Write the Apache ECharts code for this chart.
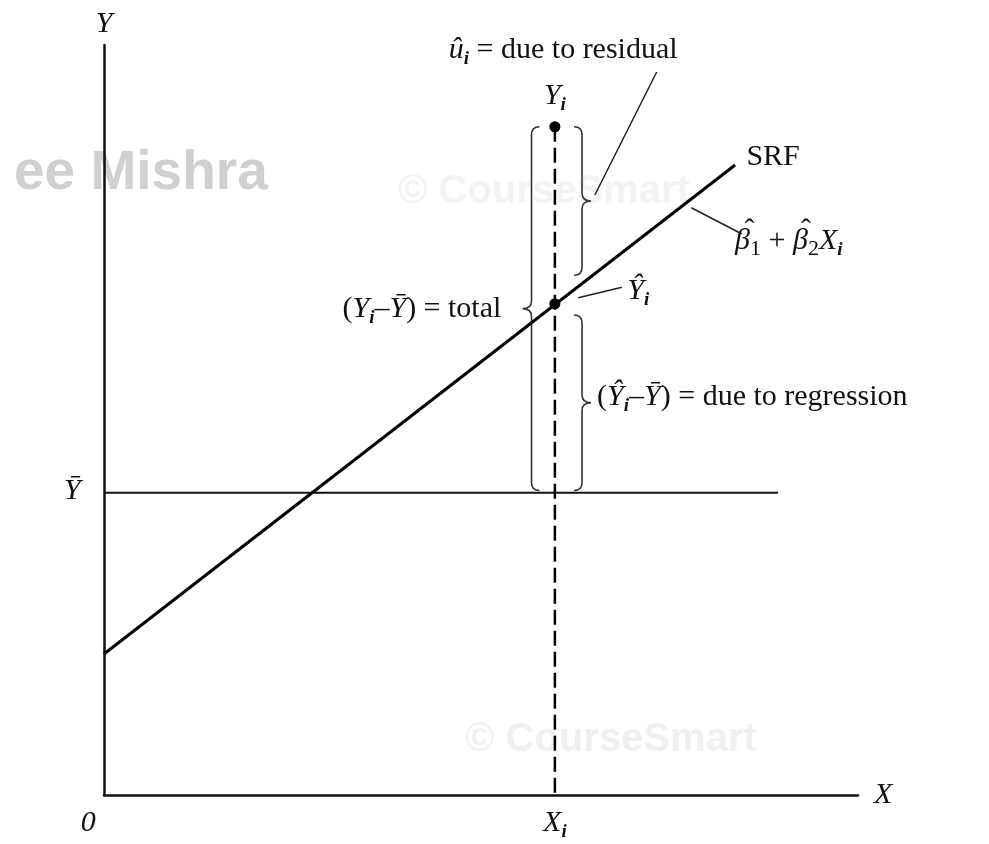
<!DOCTYPE html>
<html lang="en">
<head>
    <meta charset="UTF-8">
    <title>Regression decomposition</title>
    <script src="https://cdn.jsdelivr.net/npm/echarts@6/dist/echarts.min.js"></script>
    <style>
        html, body { margin: 0; padding: 0; background: #fff; }
        #main { width: 989px; height: 844px; }
    </style>
</head>
<body>
<div id="main"></div>
<script>
// values of the diagram, in data units (x and y both run 0..10)
var axisRange = [0, 10];
var srfLine = [[0, 1.88], [8.37, 8.40]];       // sample regression function
var meanLine = [[0, 4.03], [8.94, 4.03]];      // Y-bar
var obsLine = [[5.98, 8.91], [5.98, 0]];       // dashed line at X_i
var points = [[5.98, 8.91], [5.98, 6.55]];     // Y_i and Y-hat_i
// braces: [spine x, top y, bottom y, tip direction (1 = right, -1 = left)]
var braces = [
    [5.67, 8.91, 4.06, -1],
    [6.34, 8.91, 6.93, 1],
    [6.34, 6.40, 4.06, 1]
];
var leaders = [
    [[7.33, 9.64], [6.51, 8.00]],
    [[7.79, 7.83], [8.46, 7.48]],
    [[6.29, 6.63], [6.87, 6.77]]
];
// labels: [x, y, text, align]
var labels = [
    [6.09, 9.93, '{v|û}{s|i}{n| = due to residual}', 'center'],
    [5.98, 9.32, '{v|Y}{s|i}', 'center'],
    [5.98, -0.37, '{v|X}{s|i}', 'center'],
    [-0.21, -0.37, '{v|0}', 'center'],
    [-0.42, 4.05, '{v|Ȳ}', 'center'],
    [8.52, 8.50, '{n|SRF}', 'left'],
    [8.37, 7.38, '{v|β}{d|1}{n| + }{v|β}{d|2}{v|X}{s|i}', 'left'],
    [8.56, 7.52, '{h|ˆ}', 'center'],
    [9.31, 7.52, '{h|ˆ}', 'center'],
    [5.27, 6.48, '{n|(}{v|Y}{s|i}{n|–}{v|Ȳ}{n|) = total}', 'right'],
    [6.94, 6.72, '{v|Ŷ}{s|i}', 'left'],
    [6.54, 5.31, '{n|(}{v|Ŷ}{s|i}{n|–}{v|Ȳ}{n|) = due to regression}', 'left']
];

var serif = '"Liberation Serif", "DejaVu Serif", serif';
var ink = '#111';
var rich = {
    n: { fontFamily: serif, fontSize: 30, color: ink },
    v: { fontFamily: serif, fontSize: 30, color: ink, fontStyle: 'italic' },
    h: { fontFamily: serif, fontSize: 30, color: ink },
    s: { fontFamily: serif, fontSize: 19, color: ink, fontStyle: 'italic', fontWeight: 'bold', padding: [18, 0, 0, 0] },
    d: { fontFamily: serif, fontSize: 22, color: ink, padding: [16, 0, 0, 0] }
};

function bracePath(params, api) {
    var top = api.coord([api.value(0), api.value(1)]);
    var bot = api.coord([api.value(0), api.value(2)]);
    var d = api.value(3);
    var x = top[0], yt = top[1], yb = bot[1], ym = (yt + yb) / 2;
    var h = 8, w = 9, r = 8;
    var p = 'M' + (x - d * h) + ' ' + yt +
        ' Q' + x + ' ' + yt + ' ' + x + ' ' + (yt + r) +
        ' L' + x + ' ' + (ym - r) +
        ' Q' + x + ' ' + ym + ' ' + (x + d * w) + ' ' + ym +
        ' Q' + x + ' ' + ym + ' ' + x + ' ' + (ym + r) +
        ' L' + x + ' ' + (yb - r) +
        ' Q' + x + ' ' + yb + ' ' + (x - d * h) + ' ' + yb;
    return {
        type: 'path',
        shape: { pathData: p },
        style: { fill: 'none', stroke: '#333', lineWidth: 1.6 }
    };
}

var series = [
    {
        type: 'line', data: meanLine, symbol: 'none', z: 3,
        lineStyle: { color: ink, width: 2 }
    },
    {
        type: 'line', data: srfLine, symbol: 'none', z: 4,
        lineStyle: { color: '#000', width: 3 }
    },
    {
        type: 'line', data: obsLine, symbol: 'none', z: 4,
        lineStyle: { color: '#000', width: 2.5, type: [15, 6] }
    },
    {
        type: 'custom', data: braces, renderItem: bracePath, z: 3, clip: false
    },
    {
        type: 'scatter', data: points, symbolSize: 11, z: 6,
        itemStyle: { color: '#000', opacity: 1 }
    },
    {
        type: 'scatter', symbolSize: 0, z: 7, silent: true, clip: false,
        itemStyle: { opacity: 1 },
        data: labels.map(function (l) {
            return { value: [l[0], l[1]], name: l[2], label: { align: l[3] } };
        }),
        label: {
            show: true, position: 'inside', rich: rich,
            formatter: function (p) { return p.name; }
        }
    }
];
leaders.forEach(function (seg) {
    series.push({
        type: 'line', data: seg, symbol: 'none', z: 3,
        lineStyle: { color: '#222', width: 1.5 }
    });
});

var axisCommon = {
    type: 'value', min: axisRange[0], max: axisRange[1],
    splitLine: { show: false }, axisTick: { show: false }, axisLabel: { show: false },
    axisLine: { lineStyle: { color: ink, width: 2.5 } },
    nameTextStyle: { fontFamily: serif, fontSize: 30, fontStyle: 'italic', color: ink }
};

var option = {
    animation: false,
    backgroundColor: '#fff',
    grid: { left: 104, right: 131, top: 45, bottom: 49 },
    xAxis: Object.assign({}, axisCommon, { name: 'X', nameLocation: 'end', nameGap: 16 }),
    yAxis: Object.assign({}, axisCommon, { name: 'Y', nameLocation: 'end', nameGap: 6 }),
    graphic: [
        { type: 'text', left: 14, top: 146, z: -10, silent: true,
          style: { text: 'ee Mishra', font: 'bold 55px "Liberation Sans", sans-serif', fill: '#d0d0d0' } },
        { type: 'text', left: 398, top: 172, z: -10, silent: true,
          style: { text: '© CourseSmart', font: 'bold 40px "Liberation Sans", sans-serif', fill: '#f3f3f3' } },
        { type: 'text', left: 465, top: 720, z: -10, silent: true,
          style: { text: '© CourseSmart', font: 'bold 40px "Liberation Sans", sans-serif', fill: '#f0f0f0' } }
    ],
    series: series
};

var myChart = echarts.init(document.getElementById('main'));
myChart.setOption(option);
</script>
</body>
</html>
